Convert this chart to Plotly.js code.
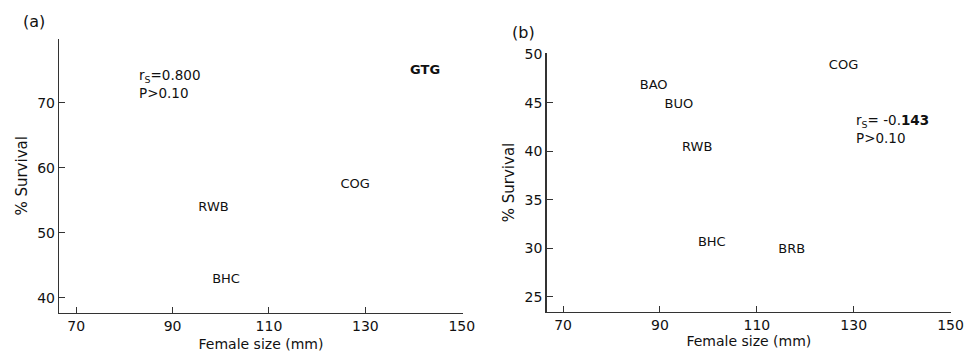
<!DOCTYPE html>
<html>
<head>
<meta charset="utf-8">
<script src="https://cdn.plot.ly/plotly-3.0.1.min.js"></script>
<style>html,body{margin:0;padding:0;background:#fff;}#chart{width:967px;height:354px;}</style>
</head>
<body>
<div id="chart"></div>
<script>
// Panel (a)
const speciesA = ["GTG", "COG", "RWB", "BHC"];
const sizeA = [142.4, 127.9, 98.5, 101.1];
const survivalA = [74.9, 57.4, 53.8, 42.8];
// Panel (b)
const speciesB = ["COG", "BAO", "BUO", "RWB", "BHC", "BRB"];
const sizeB = [127.9, 88.7, 93.9, 97.7, 100.7, 117.2];
const survivalB = [48.8, 46.8, 44.8, 40.4, 30.6, 29.8];
// Axis ticks
const xTicks = [70, 90, 110, 130, 150];
const yTicksA = [40, 50, 60, 70];
const yTicksB = [25, 30, 35, 40, 45, 50];
const statsA = ["r<sub>S</sub>=0.800", "P>0.10"];
const statsB = ["r<sub>S</sub>= -0.<b>143</b>", "P>0.10"];

const FONT = "DejaVu Sans, Liberation Sans, sans-serif";
const INK = "#111";

const traces = [
  {x: sizeA, y: survivalA, text: speciesA.map((s, i) => i === 0 ? "<b>" + s + "</b>" : s),
   mode: "text", type: "scatter", xaxis: "x", yaxis: "y",
   textfont: {family: FONT, size: 13, color: INK}, hoverinfo: "none", showlegend: false},
  {x: sizeB, y: survivalB, text: speciesB,
   mode: "text", type: "scatter", xaxis: "x2", yaxis: "y2",
   textfont: {family: FONT, size: 13, color: INK}, hoverinfo: "none", showlegend: false}
];

const axisCommon = {
  showgrid: false, zeroline: false, showline: true, linecolor: "#333", linewidth: 1.5,
  ticks: "inside", ticklen: 6, tickwidth: 1, tickcolor: "#333",
  tickfont: {family: FONT, size: 14, color: INK}, fixedrange: true
};

const layout = {
  width: 967, height: 354,
  margin: {l: 0, r: 0, t: 0, b: 0},
  paper_bgcolor: "#fff", plot_bgcolor: "#fff",
  font: {family: FONT, color: INK},
  xaxis: Object.assign({}, axisCommon, {domain: [0.0613, 0.4785], range: [66.5, 150.2], tickvals: xTicks, anchor: "y",
    title: {text: "Female size (mm)", font: {family: FONT, size: 14, color: INK}, standoff: 6}}),
  yaxis: Object.assign({}, axisCommon, {domain: [0.1167, 0.8898], range: [37.7, 79.8], tickvals: yTicksA, anchor: "x",
    title: {text: "% Survival", font: {family: FONT, size: 15, color: INK}, standoff: 6}}),
  xaxis2: Object.assign({}, axisCommon, {domain: [0.5653, 0.9835], range: [66.6, 150.1], tickvals: xTicks, anchor: "y2",
    title: {text: "Female size (mm)", font: {family: FONT, size: 14, color: INK}, standoff: 4}}),
  yaxis2: Object.assign({}, axisCommon, {domain: [0.1195, 0.8494], range: [23.45, 50.1], tickvals: yTicksB, anchor: "x2",
    title: {text: "% Survival", font: {family: FONT, size: 15, color: INK}, standoff: 6}}),
  annotations: [
    {xref: "paper", yref: "paper", x: 34 / 967, y: 1 - 22 / 354, text: "(a)", showarrow: false,
     font: {family: FONT, size: 16, color: INK}, xanchor: "center", yanchor: "middle"},
    {xref: "paper", yref: "paper", x: 523 / 967, y: 1 - 33 / 354, text: "(b)", showarrow: false,
     font: {family: FONT, size: 16, color: INK}, xanchor: "center", yanchor: "middle"},
    {xref: "x", yref: "y", x: 82.7, y: 72.9, text: statsA.join("<br>"), showarrow: false, align: "left",
     font: {family: FONT, size: 13.5, color: INK}, xanchor: "left", yanchor: "middle"},
    {xref: "x2", yref: "y2", x: 130.0, y: 42.3, text: statsB.join("<br>"), showarrow: false, align: "left",
     font: {family: FONT, size: 13.5, color: INK}, xanchor: "left", yanchor: "middle"}
  ]
};

Plotly.newPlot("chart", traces, layout, {displayModeBar: false, staticPlot: true});
</script>
</body>
</html>
